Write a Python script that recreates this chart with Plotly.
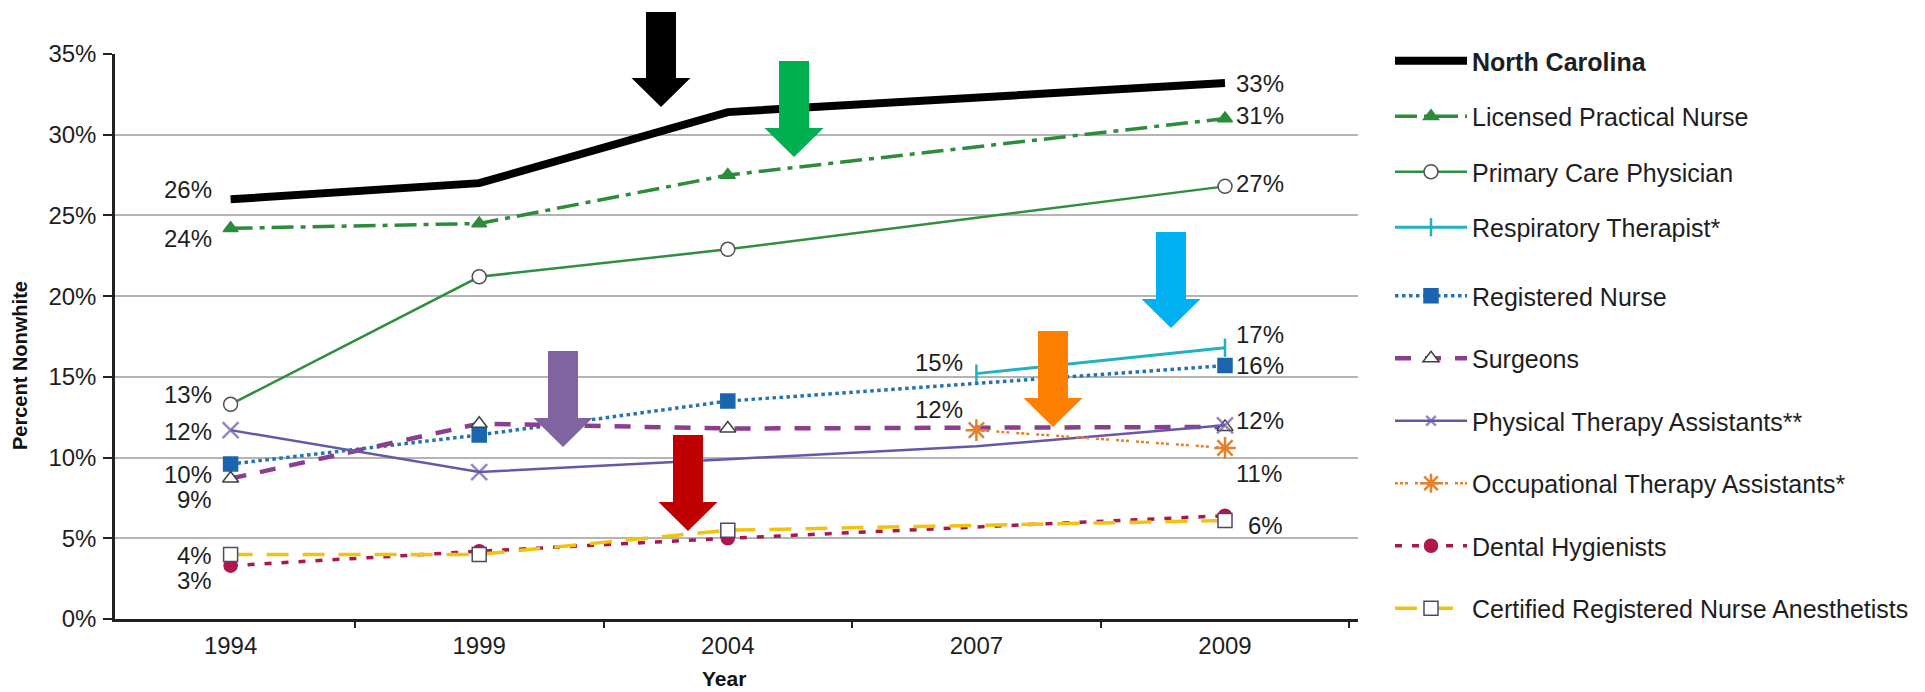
import plotly.graph_objects as go

# ---- data -----------------------------------------------------------------
years = ["1994", "1999", "2004", "2007", "2009"]

north_carolina = [26.0, 27.0, 31.4, None, 33.2]
licensed_practical_nurse = [24.2, 24.5, 27.5, None, 31.0]
primary_care_physician = [13.3, 21.2, 22.9, None, 26.8]
respiratory_therapist = [None, None, None, 15.2, 16.8]
registered_nurse = [9.6, 11.4, 13.5, None, 15.7]
surgeons = [8.7, 12.1, 11.8, None, 11.9]
physical_therapy_assistants = [11.7, 9.1, 9.9, 10.7, 12.0]
occupational_therapy_assistants = [None, None, None, 11.7, 10.6]
dental_hygienists = [3.3, 4.2, 5.0, None, 6.4]
nurse_anesthetists = [4.0, 4.0, 5.5, None, 6.1]

y_ticks = [0, 5, 10, 15, 20, 25, 30, 35]

PCT = "&#37;"  # percent sign, written as an entity

# ---- page geometry (px) ---------------------------------------------------
W, H = 1925, 692
L, R, T, B = 115, 567, 54, 73
PW, PH = W - L - R, H - T - B

FONT = "Liberation Sans, Arial, sans-serif"
INK = "#1e1e1e"

fig = go.Figure()


def add_series(name, values, color, width, dash="solid", symbol=None,
               msize=14, mfill=None, mline=None, mlw=1.5, legend="legend"):
    marker = dict(size=0, opacity=0) if symbol is None else dict(
        symbol=symbol, size=msize,
        color=mfill if mfill is not None else color,
        line=dict(color=mline if mline is not None else color, width=mlw))
    fig.add_trace(go.Scatter(
        x=years, y=values, name=name, legendgroup=name, legend=legend,
        mode="lines+markers" if symbol else "lines",
        connectgaps=True,
        line=dict(color=color, width=width, dash=dash),
        marker=marker,
        hoverinfo="skip",
    ))


add_series("<b>North Carolina</b>", north_carolina, "#000000", 8)
add_series("Licensed Practical Nurse", licensed_practical_nurse, "#2c8c3c", 3.5,
           dash="22px,7px,5px,7px", symbol="triangle-up", msize=13)
add_series("Primary Care Physician", primary_care_physician, "#2f8f3f", 2.5,
           symbol="circle", msize=14, mfill="#ffffff", mline="#505050")
add_series("Respiratory Therapist*", respiratory_therapist, "#1fb3c2", 3,
           symbol="line-ns-open", msize=13, mlw=2.5)
add_series("Registered Nurse", registered_nurse, "#2273b5", 3.5,
           dash="dot", symbol="square", msize=14, mfill="#1b65ae",
           mline="#1b65ae", legend="legend2")
add_series("Surgeons", surgeons, "#8c3e8e", 4.5,
           dash="16px,14px", symbol="triangle-up", msize=14,
           mfill="#ffffff", mline="#404040", legend="legend2")

# physical therapy assistants: markers only on 1994, 1999 and 2009
fig.add_trace(go.Scatter(
    x=years, y=physical_therapy_assistants, name="Physical Therapy Assistants**",
    legendgroup="pta", legend="legend2", mode="lines+markers", connectgaps=True,
    line=dict(color="#6657a8", width=2.5),
    marker=dict(symbol="x-thin", size=[16, 16, 0, 0, 16],
                line=dict(color="#6657a8", width=2.5), color="#6657a8"),
    hoverinfo="skip",
))

add_series("Occupational Therapy Assistants*", occupational_therapy_assistants,
           "#e8802a", 2.5, dash="3px,2px,3px,2px,3px,7px",
           symbol="asterisk", msize=18, mlw=2.5, legend="legend2")
add_series("Dental Hygienists", dental_hygienists, "#a8174f", 3.5,
           dash="7px,10px", symbol="circle", msize=13, mfill="#b0174f",
           mline="#b0174f", legend="legend2")
add_series("Certified Registered Nurse Anesthetists", nurse_anesthetists,
           "#f4c20d", 3.5, dash="22px,14px", symbol="square", msize=14,
           mfill="#ffffff", mline="#4a4a6a", legend="legend2")

# ---- value labels ----------------------------------------------------------
label_specs = [
    # (series values, year, anchor side, x shift, y shift)
    (north_carolina, "1994", "right", -17, 10),
    (licensed_practical_nurse, "1994", "right", -17, -10),
    (primary_care_physician, "1994", "right", -17, 10),
    (physical_therapy_assistants, "1994", "right", -17, -1),
    (registered_nurse, "1994", "right", -17, -10),
    (surgeons, "1994", "right", -17, -21),
    (nurse_anesthetists, "1994", "right", -17, -1),
    (dental_hygienists, "1994", "right", -17, -15),
    (north_carolina, "2009", "left", 9, 0),
    (licensed_practical_nurse, "2009", "left", 9, 3),
    (primary_care_physician, "2009", "left", 9, 3),
    (respiratory_therapist, "2009", "left", 9, 13),
    (registered_nurse, "2009", "left", 9, 0),
    (physical_therapy_assistants, "2009", "left", 9, 5),
    (occupational_therapy_assistants, "2009", "left", 9, -26),
    (nurse_anesthetists, "2009", "left", 21, -5),
    (respiratory_therapist, "2007", "right", -11, 11),
    (occupational_therapy_assistants, "2007", "right", -11, 21),
]
for values, yr, side, dx, dy in label_specs:
    i = years.index(yr)
    v = values[i]
    fig.add_annotation(
        x=i, y=v, xref="x", yref="y", text=f"{v:.0f}{PCT}", showarrow=False,
        xanchor=side, yanchor="middle", xshift=dx, yshift=dy,
        font=dict(family=FONT, size=24, color=INK),
    )

# ---- axis titles -----------------------------------------------------------
fig.add_annotation(
    x=(20 - L) / PW, y=(H - B - 366) / PH, xref="paper", yref="paper",
    text="<b>Percent Nonwhite</b>", textangle=-90, showarrow=False,
    xanchor="center", yanchor="middle",
    font=dict(family=FONT, size=20, color="#111111"),
)
fig.add_annotation(
    x=(724 - L) / PW, y=(H - B - 678) / PH, xref="paper", yref="paper",
    text="<b>Year</b>", showarrow=False, xanchor="center", yanchor="middle",
    font=dict(family=FONT, size=21, color="#111111"),
)


# ---- block arrows ------------------------------------------------------------
def block_arrow(cx, top, neck, tip, color, shaft=30, head=59):
    def px(x):
        return (x - L) / PW

    def py(y):
        return (H - B - y) / PH
    pts = [(cx - shaft / 2, top), (cx + shaft / 2, top), (cx + shaft / 2, neck),
           (cx + head / 2, neck), (cx, tip), (cx - head / 2, neck),
           (cx - shaft / 2, neck)]
    path = "M " + " L ".join(f"{px(x):.5f},{py(y):.5f}" for x, y in pts) + " Z"
    fig.add_shape(type="path", path=path, xref="paper", yref="paper",
                  fillcolor=color, line=dict(width=0), layer="above")


block_arrow(661, 12, 78, 107, "#000000")
block_arrow(794, 61, 128, 157, "#00b050")
block_arrow(1171, 232, 299, 328, "#00b0f0")
block_arrow(1053, 331, 398, 427, "#ff8000")
block_arrow(563, 351, 418, 447, "#8064a2")
block_arrow(688, 435, 502, 531, "#c00000")

# ---- layout ------------------------------------------------------------------
legend_common = dict(
    x=(1390 - L) / PW, xanchor="left", yanchor="top",
    traceorder="grouped", itemwidth=72,
    font=dict(family=FONT, size=25, color=INK),
    bgcolor="rgba(0,0,0,0)", borderwidth=0, maxheight=690,
)

fig.update_layout(
    width=W, height=H,
    margin=dict(l=L, r=R, t=T, b=B, pad=0, autoexpand=False),
    paper_bgcolor="#ffffff", plot_bgcolor="#ffffff",
    font=dict(family=FONT, color=INK),
    showlegend=True,
    legend=dict(legend_common, y=(H - B - 38) / PH, tracegroupgap=20),
    legend2=dict(legend_common, y=(H - B - 273) / PH, tracegroupgap=27),
    xaxis=dict(
        type="category", range=[-0.465, 4.535],
        showline=True, linecolor="#222222", linewidth=2.5,
        ticks="outside", tickson="boundaries", ticklen=6, tickwidth=1.5,
        tickcolor="#222222", showgrid=False, zeroline=False,
        tickfont=dict(family=FONT, size=24, color=INK),
        ticklabelstandoff=3,
    ),
    yaxis=dict(
        range=[0, 35], tickvals=y_ticks,
        ticktext=[f"{v}{PCT}" for v in y_ticks],
        showline=True, linecolor="#222222", linewidth=2.5,
        ticks="outside", ticklen=9, tickwidth=1.5, tickcolor="#222222",
        showgrid=True, gridcolor="#b4b4b4", gridwidth=1.5, zeroline=False,
        tickfont=dict(family=FONT, size=24, color=INK),
        ticklabelstandoff=2,
    ),
)

fig.write_html("out.html")
